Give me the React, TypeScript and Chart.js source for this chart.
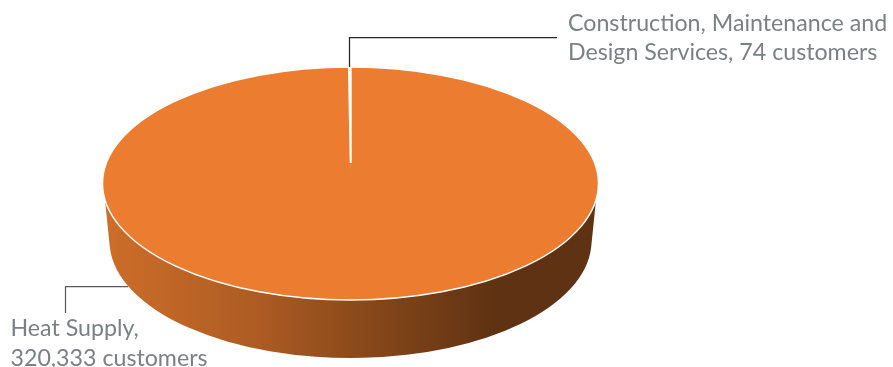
import { useEffect, useRef } from "react";
import { ArcElement, Chart, registerables } from "chart.js";

Chart.register(...registerables);

const categories = ["Heat Supply", "Construction, Maintenance and Design Services"];
const customers = [320333, 74];
const sliceColors = ["#EB7C30", "#FFC000"];
const heatLabel = ["Heat Supply,", "320,333 customers"];
const serviceLabel = ["Construction, Maintenance and", "Design Services, 74 customers"];

const TEXT_FONT = "23.2px Lato";
const TEXT_COLOR = "#7C8084";
const DISC = { x: 350.5, y: 183.5, rx: 248, ry: 116.5 };
const BASE = { x: 350.5, y: 241, rx: 241, ry: 117 };
const WALL_TOP_Y = 200;
const WALL_BOTTOM_Y = 247;

// The narrow slice converges on the perspective centre of the disc and is widened a little to stay visible.
const SLIVER = { tipX: 350.7, tipY: 163, topY: 67.5, widen: 5 };

function drawWall(ctx: CanvasRenderingContext2D) {
  const topAngle = Math.asin((WALL_TOP_Y - DISC.y) / DISC.ry);
  const baseAngle = Math.asin((WALL_BOTTOM_Y - BASE.y) / BASE.ry);
  const shade = ctx.createLinearGradient(BASE.x - BASE.rx, 0, BASE.x + BASE.rx, 0);
  shade.addColorStop(0, "#CC6D29");
  shade.addColorStop(0.3, "#AE5C23");
  shade.addColorStop(0.55, "#854719");
  shade.addColorStop(0.8, "#5F3213");
  shade.addColorStop(1, "#5F3213");
  ctx.beginPath();
  ctx.ellipse(DISC.x, DISC.y, DISC.rx, DISC.ry, 0, topAngle, Math.PI - topAngle);
  ctx.ellipse(BASE.x, BASE.y, BASE.rx, BASE.ry, 0, Math.PI - baseAngle, baseAngle, true);
  ctx.closePath();
  ctx.fillStyle = shade;
  ctx.fill();
}

function drawLeader(ctx: CanvasRenderingContext2D, color: string, points: number[][]) {
  ctx.beginPath();
  points.forEach(([x, y], i) => (i ? ctx.lineTo(x, y) : ctx.moveTo(x, y)));
  ctx.strokeStyle = color;
  ctx.lineWidth = 1.25;
  ctx.stroke();
}

function drawLabel(ctx: CanvasRenderingContext2D, lines: string[], x: number, y: number) {
  ctx.font = TEXT_FONT;
  ctx.fillStyle = TEXT_COLOR;
  ctx.textAlign = "left";
  ctx.textBaseline = "alphabetic";
  lines.forEach((line, i) => ctx.fillText(line, x, y + i * 29.5));
}

const tiltedPie = {
  id: "tiltedPie",
  afterDatasetsUpdate(chart: Chart) {
    const sliver: any = chart.getDatasetMeta(0).data[1];
    sliver.draw = function (ctx: CanvasRenderingContext2D, area: unknown) {
      const scaleY = (SLIVER.tipY - SLIVER.topY) / this.outerRadius;
      ctx.save();
      ctx.setTransform(
        SLIVER.widen, 0, 0, scaleY,
        SLIVER.tipX - SLIVER.widen * this.x,
        SLIVER.tipY - scaleY * this.y,
      );
      ArcElement.prototype.draw.call(this, ctx, area as any);
      ctx.restore();
    };
  },
  beforeDatasetsDraw(chart: Chart) {
    const ctx = chart.ctx;
    const arc: any = chart.getDatasetMeta(0).data[0];
    drawWall(ctx);
    ctx.save();
    ctx.translate(DISC.x, DISC.y);
    ctx.scale(1, DISC.ry / arc.outerRadius);
    ctx.translate(-arc.x, -arc.y);
  },
  afterDatasetsDraw(chart: Chart) {
    const ctx = chart.ctx;
    ctx.restore();
    ctx.beginPath();
    ctx.ellipse(DISC.x, DISC.y, DISC.rx, DISC.ry, 0, 0, Math.PI * 2);
    ctx.strokeStyle = "#FFFFFF";
    ctx.lineWidth = 1.5;
    ctx.stroke();
    drawLeader(ctx, "#262626", [[349.5, 67], [349.5, 37.5], [557, 37.5]]);
    drawLeader(ctx, "#595959", [[128, 286.5], [65.5, 286.5], [65.5, 313]]);
    drawLabel(ctx, serviceLabel, 568, 30.5);
    drawLabel(ctx, heatLabel, 10.5, 336);
  },
};

export default function App() {
  const canvasRef = useRef<HTMLCanvasElement>(null);

  useEffect(() => {
    const chart = new Chart(canvasRef.current!, {
      type: "pie",
      data: {
        labels: categories,
        datasets: [
          {
            data: customers,
            backgroundColor: sliceColors,
            borderColor: "#FFFFFF",
            borderWidth: [0, 0.4],
            radius: DISC.rx,
            clip: false,
          } as any,
        ],
      },
      options: {
        responsive: false,
        animation: false,
        events: [],
        layout: { padding: { right: 192 } },
        plugins: { legend: { display: false }, tooltip: { enabled: false } },
      },
      plugins: [tiltedPie as any],
    });
    return () => chart.destroy();
  }, []);

  return (
    <div style={{ position: "fixed", left: 0, top: 0, width: 893, height: 367, background: "#FFFFFF" }}>
      <canvas ref={canvasRef} width={893} height={367} style={{ display: "block" }} />
    </div>
  );
}
